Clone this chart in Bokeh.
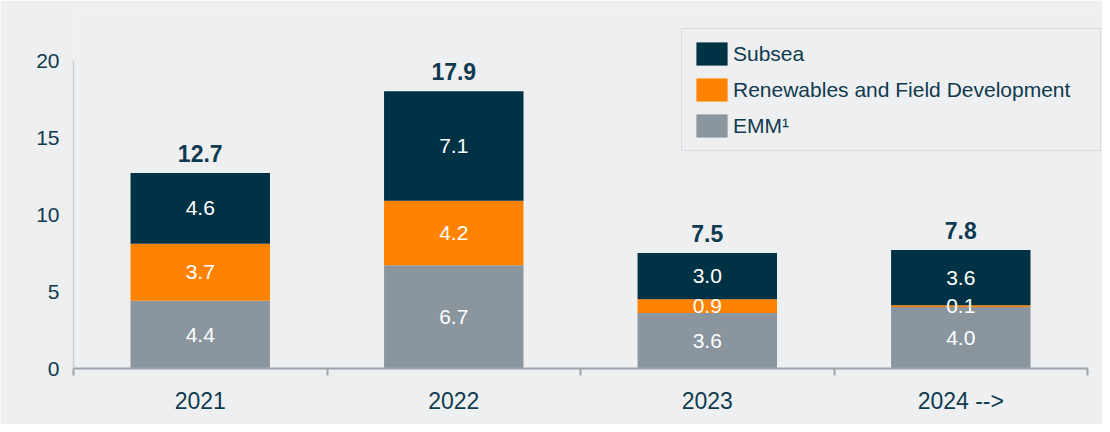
from bokeh.plotting import figure
from bokeh.models import (ColumnDataSource, FixedTicker, Range1d, Legend, LegendItem,
                          LabelSet)
from bokeh.core.properties import value
from bokeh.embed import file_html
from bokeh.resources import INLINE

# ---- data ----
years = ["2021", "2022", "2023", "2024 -->"]
emm = [4.4, 6.7, 3.6, 4.0]
renewables = [3.7, 4.2, 0.9, 0.1]
subsea = [4.6, 7.1, 3.0, 3.6]
totals = [12.7, 17.9, 7.5, 7.8]
y_ticks = [0, 5, 10, 15, 20]

# ---- styles ----
BG = "#eeeff1"
NAVY = "#003246"
ORANGE = "#ff8200"
GREY = "#8a959e"
TXT = "#0f3a4f"
FONT = "Liberation Sans"

n = len(years)
xs = [i + 0.5 for i in range(n)]
base1 = emm
base2 = [a + b for a, b in zip(emm, renewables)]
tops = [a + b + c for a, b, c in zip(emm, renewables, subsea)]

src = ColumnDataSource(dict(x=xs, emm=emm, ren=renewables, sub=subsea))

p = figure(width=1102, height=424, output_backend="svg", toolbar_location=None,
           x_range=Range1d(0, n + 0.059), y_range=Range1d(0, 23.25),
           min_border_left=73, min_border_right=0, min_border_top=10,
           min_border_bottom=56)
p.background_fill_color = BG
p.border_fill_color = BG
p.outline_line_color = None
p.xgrid.visible = False
p.ygrid.visible = False

r = p.vbar_stack(["emm", "ren", "sub"], x="x", width=0.55, source=src,
                 color=[GREY, ORANGE, NAVY], line_color=None)

# segment labels
seg_x, seg_y, seg_t = [], [], []
for i in range(n):
    for b, v in ((0, emm[i]), (base1[i], renewables[i]), (base2[i], subsea[i])):
        seg_x.append(xs[i])
        seg_y.append(b + v / 2)
        seg_t.append(f"{v:.1f}")
seg_src = ColumnDataSource(dict(x=seg_x, y=seg_y, t=seg_t))
p.add_layout(LabelSet(x="x", y="y", text="t", source=seg_src,
                      text_align="center", text_baseline="middle",
                      text_color="white", text_font=value(FONT),
                      text_font_size="21px"))

# totals
tot_src = ColumnDataSource(dict(x=xs, y=tops, t=[f"{v:.1f}" for v in totals]))
p.add_layout(LabelSet(x="x", y="y", text="t", source=tot_src,
                      text_align="center", text_baseline="bottom",
                      y_offset=11, text_color=TXT, text_font=value(FONT),
                      text_font_size="23px", text_font_style="bold"))

# y axis
ya = p.yaxis[0]
ya.ticker = FixedTicker(ticks=y_ticks)
ya.bounds = (0, 20)
ya.axis_line_color = "#c9ced3"
ya.axis_line_width = 1.5
ya.major_tick_line_color = None
ya.minor_tick_line_color = None
ya.major_tick_out = 0
ya.major_label_standoff = 14
ya.major_label_text_font = FONT
ya.major_label_text_font_size = "21px"
ya.major_label_text_color = TXT

# x axis
xa = p.xaxis[0]
xa.ticker = FixedTicker(ticks=xs, minor_ticks=list(range(n + 1)))
xa.bounds = (0, n)
xa.major_label_overrides = {x: y for x, y in zip(xs, years)}
xa.axis_line_color = "#9aa5ae"
xa.axis_line_width = 2
xa.major_tick_line_color = None
xa.major_tick_out = 0
xa.major_tick_in = 0
xa.minor_tick_line_color = "#9aa5ae"
xa.minor_tick_line_width = 2
xa.minor_tick_out = 7
xa.minor_tick_in = 0
xa.major_label_standoff = 12
xa.major_label_text_font = FONT
xa.major_label_text_font_size = "23px"
xa.major_label_text_color = TXT

# legend
labels = ["EMM\u00b9", "Renewables and Field Development", "Subsea"]
items = [LegendItem(label=labels[i], renderers=[r[i]]) for i in (2, 1, 0)]
leg = Legend(items=items, location=(608, 217),
             glyph_width=39, glyph_height=29, spacing=7, padding=10,
             label_standoff=2, label_width=357,
             label_text_font=FONT, label_text_font_size="21px",
             label_text_color=TXT, label_text_baseline="middle",
             background_fill_color=BG, background_fill_alpha=1,
             border_line_color="#c5c8cc", border_line_width=1.5)
p.add_layout(leg)

open("out.html", "w").write(file_html(p, INLINE))
